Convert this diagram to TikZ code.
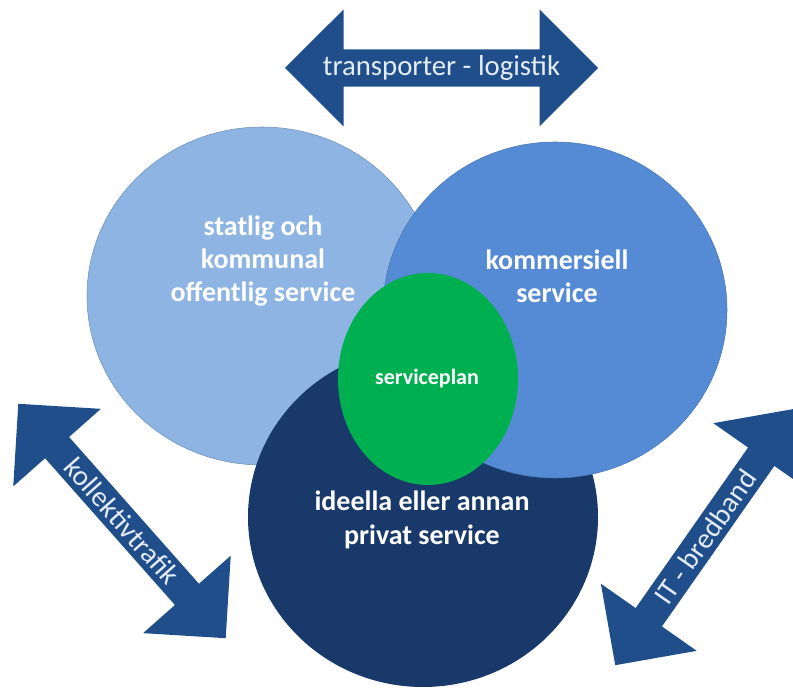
\documentclass[tikz,border=0pt]{standalone}
\usepackage{fontspec}
\setmainfont{Carlito}
\usepackage{tikz}
\usetikzlibrary{shapes,arrows}
\definecolor{ljus}{HTML}{8DB4E2}
\definecolor{mellan}{HTML}{558BD4}
\definecolor{mork}{HTML}{19396A}
\definecolor{gron}{HTML}{00B050}
\definecolor{pil}{HTML}{1F4E8A}
\definecolor{piltext}{HTML}{E4ECF7}
\tikzset{x=0.75pt,y=-0.75pt,every node/.style={align=center,inner sep=0pt},
  pilen/.style={double arrow,fill=pil,minimum height=234.75pt,minimum width=87.75pt,
    double arrow head extend=20.6pt,text=piltext,font=\fontsize{21.6}{25}\selectfont},
  cirkel/.style={ellipse},
  etikett/.style={text=white,font=\bfseries\fontsize{21}{25}\selectfont}}

\begin{document}
\begin{tikzpicture}
    \useasboundingbox (0,0) rectangle (793,691);
    \node[pilen] (trans) at (441.5,68) {transporter - logistik};
    \node[pilen,rotate=-48.5] (koll) at (122,521) {kollektivtrafik};
    \node[pilen,rotate=55] (it) at (705,537) {IT - bredband};
    \node[cirkel,fill=ljus,draw=ljus!80!black,minimum width=262.5pt,minimum height=253.5pt] (stat) at (262,296) {};
    \node[cirkel,fill=mork,minimum width=262.5pt,minimum height=255pt] (ideell) at (423,517) {};
    \node[cirkel,fill=mellan,draw=mellan!85!black,minimum width=258pt,minimum height=252pt] (komm) at (555,310) {};
    \node[cirkel,fill=gron,minimum width=135pt,minimum height=159pt] (plan) at (428,379) {};
    \node[etikett] (stat-t) at (263,261) {statlig och\\kommunal\\offentlig service};
    \node[etikett] (komm-t) at (557,276) {kommersiell\\service};
    \node[etikett] (ideell-t) at (422,520) {ideella eller annan\\privat service};
    \node[etikett,font=\bfseries\fontsize{16.5}{19}\selectfont] (plan-t) at (427,379) {serviceplan};
\end{tikzpicture}
\end{document}
